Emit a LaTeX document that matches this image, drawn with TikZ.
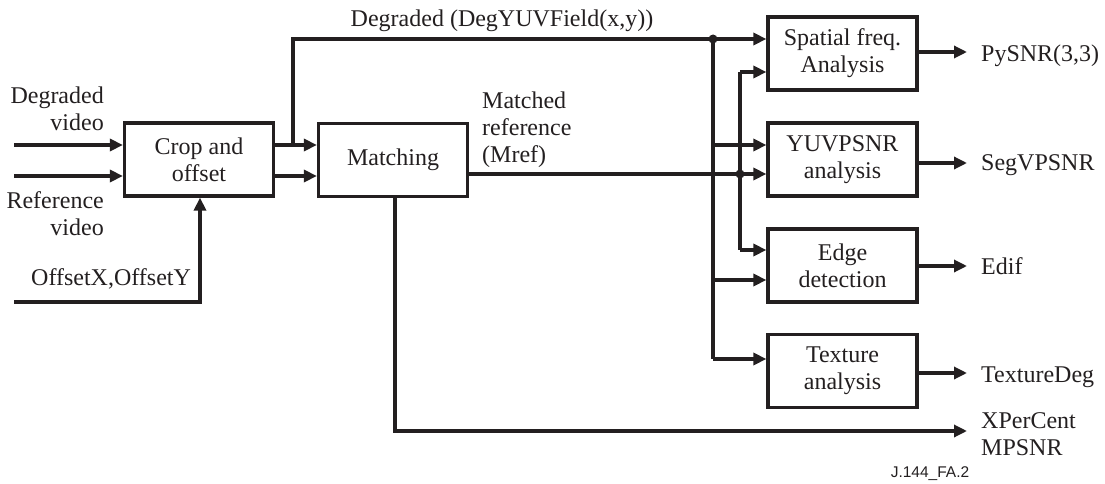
\documentclass[tikz,border=0pt]{standalone}
\usepackage{fontspec}
\setmainfont{Liberation Serif}
\newfontfamily\labelsans{Liberation Sans}
\usetikzlibrary{arrows.meta}
\definecolor{ink}{HTML}{231F20}
\begin{document}
\begin{tikzpicture}[x=1pt,y=-1pt,
  every node/.style={font=\fontsize{24}{27}\selectfont, text=ink},
  blk/.style={draw=ink, line width=3.2pt, minimum width=149pt, minimum height=73pt, align=center, inner sep=0pt},
  lbl/.style={inner sep=0pt},
  wire/.style={draw=ink, line width=3.2pt},
  arr/.style={wire, -{Triangle[length=13pt,width=12pt]}},
  dot/.style={circle, fill=ink, inner sep=0pt, minimum size=9pt}]
\useasboundingbox (0,0) rectangle (1105,484);

% blocks
\node[blk] (crop) at (199,159.5) {Crop and\\offset};
\node[blk] (match) at (393,160) {Matching};
\node[blk] (spat) at (842.5,53.5) {Spatial freq.\\Analysis};
\node[blk] (yuv) at (842.5,159.5) {YUVPSNR\\analysis};
\node[blk] (edge) at (842.5,265.5) {Edge\\detection};
\node[blk] (tex) at (842.5,371) {Texture\\analysis};

% text labels
\node[lbl, align=right, anchor=east] (tdeg) at (104,109) {Degraded\\video};
\node[lbl, align=right, anchor=east] (tref) at (104,214) {Reference\\video};
\node[lbl, anchor=base west] (toff) at (31,285) {OffsetX,OffsetY};
\node[lbl, anchor=base] (tdy) at (502,27) {Degraded (DegYUVField(x,y))};
\node[lbl, align=left, anchor=west] (tmref) at (482,130) {Matched\\reference\\(Mref)};
\node[lbl, anchor=base west] (o1) at (981,62) {PySNR(3,3)};
\node[lbl, anchor=base west] (o2) at (981,170) {SegVPSNR};
\node[lbl, anchor=base west] (o3) at (981,274) {Edif};
\node[lbl, anchor=base west] (o4) at (981,382) {TextureDeg};
\node[lbl, align=left, anchor=west] (o5) at (981,434) {XPerCent\\MPSNR};
\node[lbl, anchor=base, font=\labelsans\fontsize{15.5}{18}\selectfont] (fig) at (930,477) {J.144\_FA.2};

% coordinates
\coordinate (inD) at (14,145);
\coordinate (inR) at (14,176);
\coordinate (inO) at (14,302);
\coordinate (offC) at (200,302);
\coordinate (split) at (293,145);
\coordinate (topL) at (293,39);
\coordinate (matchDown) at (395,431);
\coordinate (xEnd) at (967,431);
\node[dot] (d1) at (713,39) {};
\node[dot] (d2) at (740,174) {};
\coordinate (v1b) at (713,359);
\coordinate (v2t) at (740,72);
\coordinate (v2b) at (740,250);

% inputs
\draw[arr] (inD) -- (inD -| crop.west);
\draw[arr] (inR) -- (inR -| crop.west);
\draw[arr] (inO) -- (offC) -- (offC |- crop.south);

% crop -> matching
\draw[arr] (split -| crop.east) -- (split -| match.west);
\draw[arr] (inR -| crop.east) -- (inR -| match.west);

% degraded top line
\draw[wire] (split) -- (topL) -- (d1.center);
\draw[arr] (d1.center) -- (d1 -| spat.west);

% matched reference line
\draw[wire] (d2 -| match.east) -- (d2.center);
\draw[arr] (d2.center) -- (d2 -| yuv.west);

% vertical distribution lines
\draw[wire] (d1.center) -- (v1b);
\draw[arr] (d1 |- 0,145) -- (yuv.west |- 0,145);
\draw[arr] (d1 |- 0,280) -- (edge.west |- 0,280);
\draw[arr] (v1b) -- (v1b -| tex.west);

\draw[wire] (v2t) -- (v2b);
\draw[arr] (v2t) -- (v2t -| spat.west);
\draw[arr] (v2b) -- (v2b -| edge.west);

% matching -> XPerCent
\draw[arr] (match.south -| matchDown) -- (matchDown) -- (xEnd);

% outputs
\draw[arr] (spat.east |- 0,52) -- (967,52);
\draw[arr] (yuv.east |- 0,163) -- (967,163);
\draw[arr] (edge.east |- 0,266) -- (967,266);
\draw[arr] (tex.east |- 0,373) -- (967,373);
\end{tikzpicture}
\end{document}
